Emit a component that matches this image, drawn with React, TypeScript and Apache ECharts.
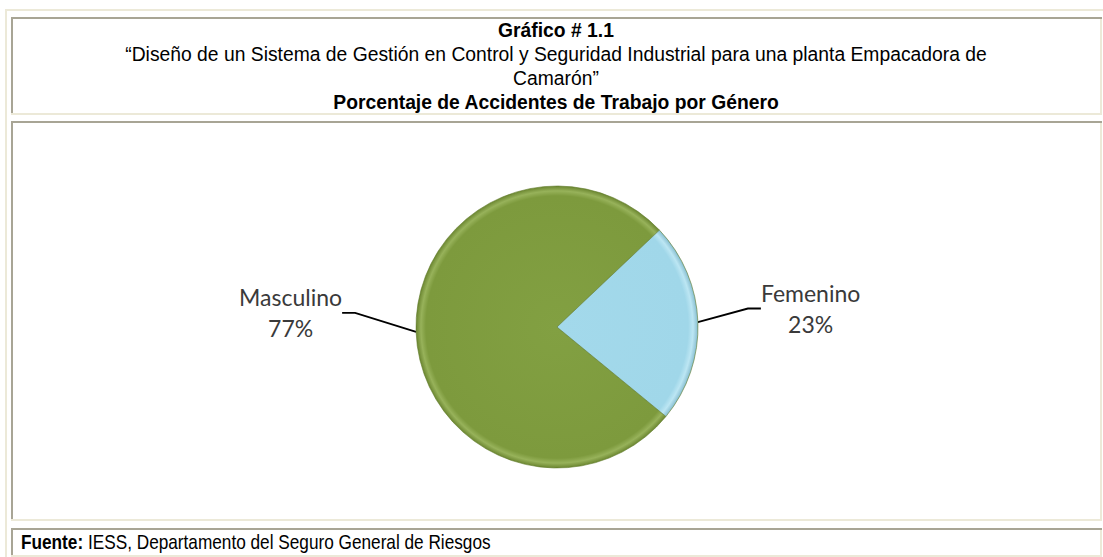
import React, { useEffect, useRef } from "react";
import * as echarts from "echarts";

const categories = ["Masculino", "Femenino"];
const values = [77, 23];
const titleLines = [
  "Gráfico # 1.1",
  "“Diseño de un Sistema de Gestión en Control y Seguridad Industrial para una planta Empacadora de",
  "Camarón”",
  "Porcentaje de Accidentes de Trabajo por Género",
];
const boldTitleLines = [true, false, false, true];
const sourceLabel = "Fuente:";
const sourceText = " IESS, Departamento del Seguro General de Riesgos";

const W = 1103;
const H = 557;
const BEIGE = "#ECE9D8";
const DARK = "#A8A595";
const PIE_CX = 557;
const PIE_CY = 327;
const PIE_R = 141;
const LABEL_LINE_LEN = [56, 45];
const LABEL_DY = [-21, -12];

function cell(x1: number, y1: number, x2: number, y2: number) {
  return [
    { type: "rect", shape: { x: x1, y: y1, width: x2 - x1, height: 2 }, style: { fill: DARK }, silent: true },
    { type: "rect", shape: { x: x1, y: y1, width: 2, height: y2 - y1 }, style: { fill: DARK }, silent: true },
    { type: "rect", shape: { x: x1, y: y2 - 2, width: x2 - x1, height: 2 }, style: { fill: BEIGE }, silent: true },
    { type: "rect", shape: { x: x2 - 2, y: y1 + 2, width: 2, height: y2 - y1 - 2 }, style: { fill: BEIGE }, silent: true },
  ];
}

export default function App() {
  const ref = useRef<HTMLDivElement>(null);
  useEffect(() => {
    document.body.style.margin = "0";
    const chart = echarts.init(ref.current!, null, { renderer: "svg" });
    const titleYs = [30, 54, 78, 102];
    const graphics: any[] = [
      { type: "rect", shape: { x: 5, y: 9, width: W - 5, height: 2 }, style: { fill: BEIGE }, silent: true },
      { type: "rect", shape: { x: 5, y: 9, width: 2, height: H - 9 }, style: { fill: BEIGE }, silent: true },
      ...cell(11, 17, 1102, 115),
      ...cell(11, 121, 1102, 521),
      ...cell(11, 528, 1102, 557),
      ...titleLines.map((t, i) => ({
        type: "text",
        x: 556,
        y: titleYs[i],
        scaleX: 0.92,
        silent: true,
        style: {
          text: t,
          textAlign: "center",
          textVerticalAlign: "middle",
          fontFamily: "Liberation Sans",
          fontSize: 21,
          fontWeight: boldTitleLines[i] ? "bold" : "normal",
          fill: "#000",
        },
      })),
      {
        type: "text",
        x: 21,
        y: 542,
        scaleX: 0.82,
        silent: true,
        style: {
          text: "{b|" + sourceLabel + "}" + sourceText,
          textVerticalAlign: "middle",
          fontFamily: "Liberation Sans",
          fontSize: 21,
          fill: "#000",
          rich: { b: { fontWeight: "bold", fontFamily: "Liberation Sans", fontSize: 21, fill: "#000" } },
        },
      },
    ];
    const colors = [
      new echarts.graphic.RadialGradient(PIE_CX, PIE_CY, PIE_R, [
        { offset: 0, color: "#82A042" },
        { offset: 0.93, color: "#7D9A3D" },
        { offset: 0.965, color: "#97B25A" },
        { offset: 1, color: "#6B8630" },
      ], true),
      new echarts.graphic.RadialGradient(PIE_CX, PIE_CY, PIE_R, [
        { offset: 0, color: "#A3D9EB" },
        { offset: 0.93, color: "#A0D7E9" },
        { offset: 0.965, color: "#BCE6F3" },
        { offset: 1, color: "#86BDD0" },
      ], true),
    ];
    chart.setOption({
      animation: false,
      backgroundColor: "#fff",
      graphic: graphics,
      series: [
        {
          type: "pie",
          center: [PIE_CX, PIE_CY],
          radius: PIE_R,
          startAngle: -39.4,
          clockwise: true,
          data: categories.map((c, i) => ({
            name: c,
            value: values[i],
            itemStyle: { color: colors[i] },
            labelLine: { length: LABEL_LINE_LEN[i] },
          })),
          itemStyle: { borderColor: "#5F7A2A", borderWidth: 0.6 },
          label: {
            show: true,
            position: "outside",
            formatter: "{b}\n{d}%",
            fontFamily: "Lato",
            fontSize: 23,
            lineHeight: 31,
            color: "#3A3A3A",
          },
          labelLine: { show: true, length: 45, length2: 13, lineStyle: { color: "#000", width: 1.8 } },
          labelLayout: (p: any) => {
            const r = p.labelRect;
            return {
              x: r.x + r.width / 2,
              y: r.y + r.height / 2 + LABEL_DY[p.dataIndex],
              align: "center",
              verticalAlign: "middle",
            };
          },
        },
      ],
    });
    return () => chart.dispose();
  }, []);
  return <div ref={ref} style={{ width: W, height: H }} />;
}
